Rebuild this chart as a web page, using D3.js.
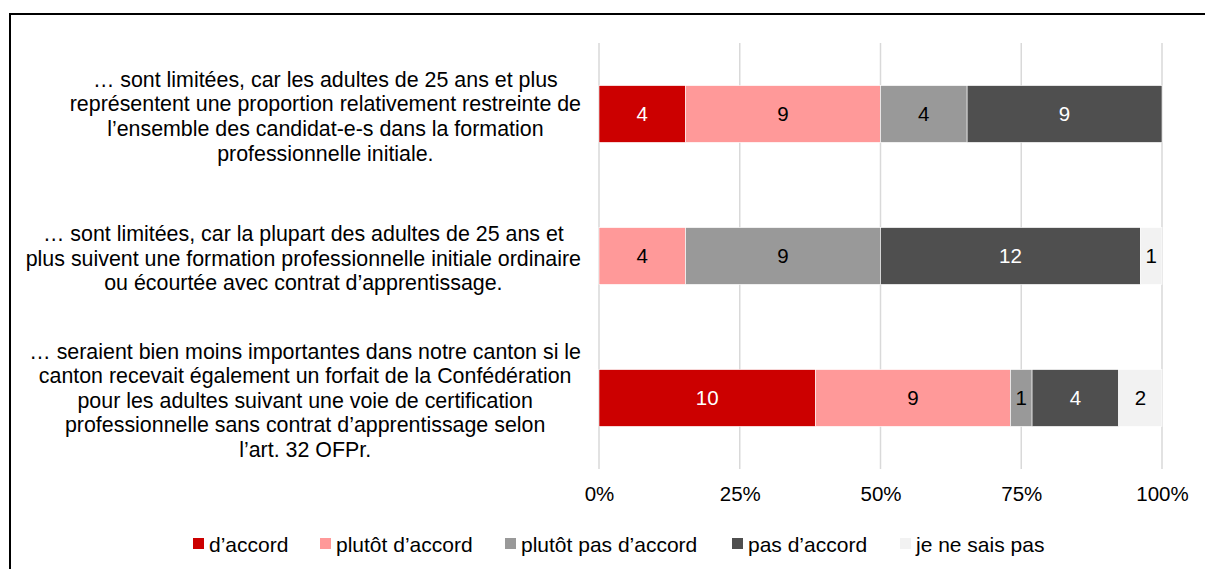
<!DOCTYPE html>
<html>
<head>
<meta charset="utf-8">
<script src="https://cdn.jsdelivr.net/npm/d3@7"></script>
<style>
  body { margin: 0; background: #fff; }
  svg { display: block; font-family: 'Liberation Sans', Arial, sans-serif; }
</style>
</head>
<body>
<svg id="chart" width="1205" height="569"></svg>
<script>
// categories (already split in lines like the original)
const categories = [
  ['… sont limitées, car les adultes de 25 ans et plus',
   'représentent une proportion relativement restreinte de',
   'l’ensemble des candidat-e-s dans la formation',
   'professionnelle initiale.'],
  ['… sont limitées, car la plupart des adultes de 25 ans et',
   'plus suivent une formation professionnelle initiale ordinaire',
   'ou écourtée avec contrat d’apprentissage.'],
  ['… seraient bien moins importantes dans notre canton si le',
   'canton recevait également un forfait de la Confédération',
   'pour les adultes suivant une voie de certification',
   'professionnelle sans contrat d’apprentissage selon',
   'l’art. 32 OFPr.']
]
const seriesNames = ['d’accord', 'plutôt d’accord', 'plutôt pas d’accord', 'pas d’accord', 'je ne sais pas']
const dAccord = [4, 0, 10]
const plutotDAccord = [9, 4, 9]
const plutotPas = [4, 9, 1]
const pasDAccord = [9, 12, 4]
const neSaisPas = [0, 1, 2]
const tickValues = [0, 0.25, 0.5, 0.75, 1]

const colors = ['#cc0000', '#ff9999', '#999999', '#4f4f4f', '#f2f2f2']
const textColors = ['#fff', '#000', '#000', '#fff', '#000']

const svg = d3.select('#chart')

// frame
svg.append('rect')
  .attr('x', 10).attr('y', 14).attr('width', 1220).attr('height', 600)
  .attr('fill', 'none').attr('stroke', '#000').attr('stroke-width', 2)

const x = d3.scaleLinear().domain([0, 1]).range([599, 1162])
const y = d3.scaleBand().domain(d3.range(categories.length)).range([43, 469]).paddingInner(0.6).paddingOuter(0.3)

// gridlines
svg.append('g').selectAll('line').data(tickValues).join('line')
  .attr('x1', d => x(d)).attr('x2', d => x(d))
  .attr('y1', 43).attr('y2', 469)
  .attr('stroke', '#d9d9d9').attr('stroke-width', 1.5)

// stacked data
const rows = categories.map((c, i) => {
  const vals = [dAccord[i], plutotDAccord[i], plutotPas[i], pasDAccord[i], neSaisPas[i]]
  const total = d3.sum(vals)
  let acc = 0
  return vals.map((v, k) => {
    const seg = { row: i, k: k, v: v, x0: acc / total, x1: (acc + v) / total }
    acc += v
    return seg
  })
})
const segs = rows.flat().filter(d => d.v > 0)

svg.append('g').selectAll('rect').data(segs).join('rect')
  .attr('x', d => x(d.x0))
  .attr('y', d => y(d.row))
  .attr('width', d => x(d.x1) - x(d.x0))
  .attr('height', y.bandwidth())
  .attr('fill', d => colors[d.k])
  .attr('stroke', '#fff').attr('stroke-width', 0.6)

svg.append('g').selectAll('text').data(segs).join('text')
  .attr('x', d => (x(d.x0) + x(d.x1)) / 2)
  .attr('y', d => y(d.row) + y.bandwidth() / 2)
  .attr('dy', '0.36em')
  .attr('text-anchor', 'middle')
  .attr('font-size', '20.5px')
  .attr('fill', d => textColors[d.k])
  .text(d => d.v)

// category labels: each block centred on itself, block right edge at the axis gap
const lineH = 24.6
const labelRight = 581
const lab = svg.append('g').selectAll('text').data(categories).join('text')
  .attr('text-anchor', 'middle')
  .attr('font-size', '21.4px')
  .attr('fill', '#000')
lab.selectAll('tspan').data(d => d.map((t, j) => ({ t, j, n: d.length }))).join('tspan')
  .attr('x', 0)
  .attr('y', d => (d.j - (d.n - 1) / 2) * lineH)
  .attr('dy', '0.36em')
  .text(d => d.t)
lab.attr('transform', function (d, i) {
  const w = d3.max(d3.select(this).selectAll('tspan').nodes(), n => n.getComputedTextLength())
  return 'translate(' + (labelRight - w / 2) + ',' + (y(i) + y.bandwidth() / 2 + 2) + ')'
})

// x axis labels
const xAxis = d3.axisBottom(x).tickValues(tickValues).tickFormat(d3.format('.0%')).tickSize(0).tickPadding(0)
const ax = svg.append('g').attr('transform', 'translate(0,486)').call(xAxis)
ax.select('.domain').remove()
ax.selectAll('text').attr('font-size', '20.5px').attr('fill', '#000').attr('font-family', 'Liberation Sans, Arial, sans-serif')

// legend
const legendX = [193, 320, 505, 732, 900]
const leg = svg.append('g').selectAll('g').data(seriesNames).join('g')
  .attr('transform', (d, i) => 'translate(' + legendX[i] + ',538)')
leg.append('rect').attr('width', 11).attr('height', 11).attr('fill', (d, i) => colors[i])
leg.append('text').attr('x', 16).attr('y', 6).attr('dy', '0.36em')
  .attr('font-size', '21px').attr('fill', '#000').text(d => d)
</script>
</body>
</html>
